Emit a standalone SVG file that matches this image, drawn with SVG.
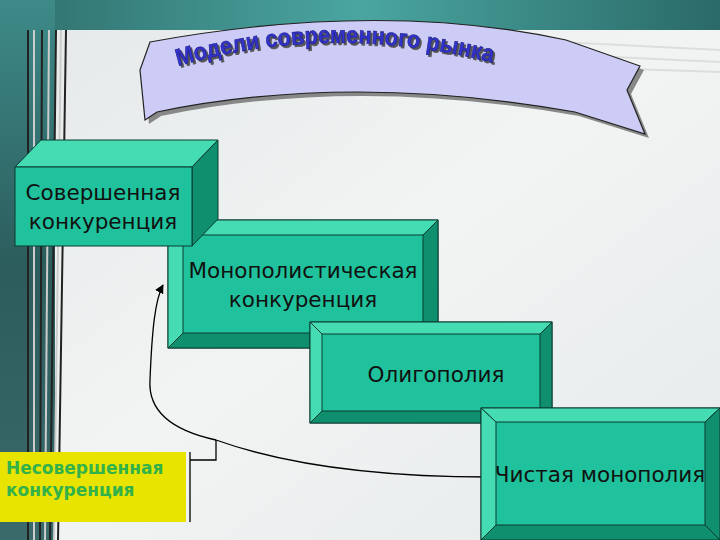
<svg xmlns="http://www.w3.org/2000/svg" width="720" height="540" viewBox="0 0 720 540">
<defs>
<linearGradient id="bg" x1="0" y1="0" x2="1" y2="1"><stop offset="0" stop-color="#e4e8e8"/><stop offset="0.5" stop-color="#f2f4f4"/><stop offset="1" stop-color="#e6eaea"/></linearGradient>
<linearGradient id="lp" x1="0" y1="0" x2="0" y2="1"><stop offset="0" stop-color="#3d8a88"/><stop offset="0.5" stop-color="#2c5c5c"/><stop offset="1" stop-color="#3a6a6a"/></linearGradient>
<linearGradient id="tp" x1="0" y1="0" x2="1" y2="0"><stop offset="0" stop-color="#2f6e6c"/><stop offset="0.5" stop-color="#4aa5a0"/><stop offset="1" stop-color="#2a6a68"/></linearGradient>
<marker id="ah" viewBox="0 0 10 10" refX="9" refY="5" markerWidth="7" markerHeight="7" orient="auto-start-reverse"><path d="M0,0 L10,5 L0,10 z" fill="#000"/></marker>
<filter id="sh"><feDropShadow dx="2" dy="2" stdDeviation="0.5" flood-color="#555"/></filter>
</defs>
<style>
.fr{fill:#1fc29c;stroke:#0a3d30;stroke-width:1}
.lt{fill:#45dcb4;stroke:#0a3d30;stroke-width:1}
.dk{fill:#0f8f6e;stroke:#0a3d30;stroke-width:1}
.t{font-family:"DejaVu Sans","Noto Sans",sans-serif;font-size:21.5px;fill:#111;text-anchor:middle}
</style>
<rect width="720" height="540" fill="url(#bg)"/>
<rect x="0" y="0" width="720" height="30" fill="url(#tp)"/>
<g stroke="#ddd" stroke-width="2"><line x1="560" y1="42" x2="720" y2="50"/><line x1="570" y1="55" x2="720" y2="62"/><line x1="600" y1="68" x2="720" y2="72"/></g>
<rect x="0" y="0" width="55" height="540" fill="url(#lp)"/>
<g stroke="#222" stroke-width="2"><line x1="28" y1="30" x2="28" y2="540"/><line x1="42" y1="30" x2="40" y2="540"/><line x1="56" y1="30" x2="50" y2="540"/><line x1="66" y1="30" x2="58" y2="540"/></g>
<g stroke="#ccc" stroke-width="2"><line x1="34" y1="30" x2="34" y2="540"/><line x1="49" y1="30" x2="45" y2="540"/><line x1="61" y1="30" x2="54" y2="540"/></g>
<g id="banner">
<path d="M145,120 L157,112 Q350,72 575,112 L645,134 L627,90 L640,66 L566,40 Q380,0 150,42 L140,70 Z" fill="#888" transform="translate(4,4)"/>
<path d="M145,120 L157,112 Q350,72 575,112 L645,134 L627,90 L640,66 L566,40 Q380,0 150,42 L140,70 Z" fill="#ccccf6" stroke="#222" stroke-width="1.2"/>
<path id="tpath" d="M178,66 Q330,22 490,62" fill="none"/>
<text font-family="Liberation Sans,sans-serif" font-weight="bold" font-size="24" fill="#3333cc" stroke="#1a1a80" stroke-width="0.6" filter="url(#sh)"><textPath href="#tpath" textLength="318" lengthAdjust="spacingAndGlyphs">Модели современного рынка</textPath></text>
</g>
<g id="connectors" fill="none" stroke="#000" stroke-width="1.3">
<path d="M216,440 C170,430 148,410 150,380 C152,330 155,300 163,285" marker-end="url(#ah)"/>
<path d="M216,440 C300,470 400,477 490,477" marker-end="url(#ah)"/>
<polyline points="190,452 190,522"/>
<polyline points="190,460 216,460 216,440"/>
</g>
<g id="n2">
<rect class="fr" x="168" y="220" width="270" height="128"/>
<polygon class="lt" points="168,220 438,220 423,235 183,235"/>
<polygon class="lt" points="168,220 183,235 183,333 168,348"/>
<polygon class="dk" points="438,220 438,348 423,333 423,235"/>
<polygon class="dk" points="168,348 183,333 423,333 438,348"/>
<text class="t" x="303" y="278">Монополистическая</text><text class="t" x="303" y="307">конкуренция</text>
</g>
<g id="n1">
<polygon class="lt" points="15,167 41,140 218,140 192,167"/>
<polygon class="dk" points="192,167 218,140 218,219 192,246"/>
<rect class="fr" x="15" y="167" width="177" height="79"/>
<text class="t" x="103" y="200">Совершенная</text><text class="t" x="103" y="229">конкуренция</text>
</g>
<g id="n3">
<rect class="fr" x="310" y="322" width="242" height="101"/>
<polygon class="lt" points="310,322 552,322 540,334 322,334"/>
<polygon class="lt" points="310,322 322,334 322,411 310,423"/>
<polygon class="dk" points="552,322 552,423 540,411 540,334"/>
<polygon class="dk" points="310,423 322,411 540,411 552,423"/>
<text class="t" x="436" y="382">Олигополия</text>
</g>
<g id="n4">
<rect class="fr" x="481" y="408" width="239" height="132"/>
<polygon class="lt" points="481,408 720,408 705,422 496,422"/>
<polygon class="lt" points="481,408 496,422 496,525 481,540"/>
<polygon class="dk" points="720,408 720,540 705,525 705,422"/>
<polygon class="dk" points="481,540 496,525 705,525 720,540"/>
<text class="t" x="600" y="482">Чистая монополия</text>
</g>
<g id="n5">
<rect x="0" y="452" width="186" height="70" fill="#e8e400"/>
<text font-family="DejaVu Sans,sans-serif" font-weight="bold" font-size="17" fill="#33b24a"><tspan x="6" y="474">Несовершенная</tspan><tspan x="6" y="496">конкуренция</tspan></text>
</g>
</svg>
